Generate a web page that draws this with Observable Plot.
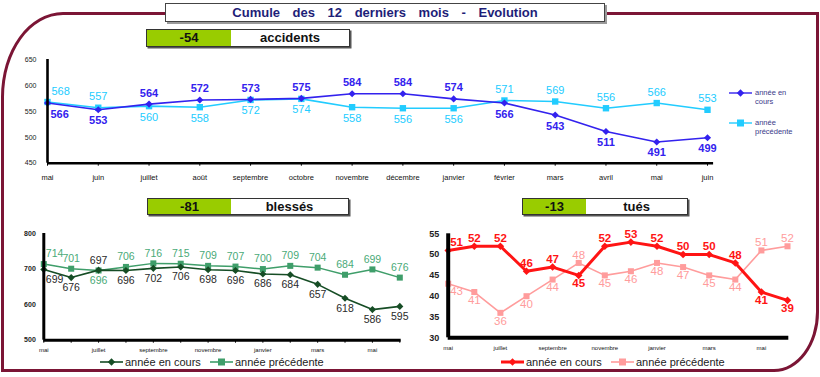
<!DOCTYPE html>
<html><head><meta charset="utf-8">
<script src="https://cdn.jsdelivr.net/npm/d3@7"></script>
<script src="https://cdn.jsdelivr.net/npm/@observablehq/plot@0.6"></script>
<style>
body{margin:0;background:#fff;font-family:"Liberation Sans",Arial,sans-serif}
#wrap{position:relative;width:820px;height:377px;overflow:hidden;background:#fff}
.frame{position:absolute;left:1px;top:12px;width:818px;height:360px;box-sizing:border-box;border:3.5px solid #7b1535;border-top-left-radius:62px 85px;border-bottom-right-radius:45px 60px}
.title{position:absolute;left:165px;top:3px;width:440px;height:19px;box-sizing:border-box;border:1px solid #444;background:#fff;box-shadow:2px 2px 0 #9a9a9a;text-align:center;font:bold 13px "Liberation Sans Narrow","Arial Narrow","Liberation Sans",Arial,sans-serif;color:#1e1e78;line-height:17px;word-spacing:9px}
.stat{position:absolute;box-sizing:border-box;border:1px solid #333;background:#fff;box-shadow:1.5px 1.5px 0 #555;display:flex;font:bold 13px "Liberation Sans",Arial,sans-serif;color:#111}
.stat .g{background:#99cc00;text-align:center}
.stat .w{flex:1;text-align:center}
.plot{position:absolute}
.leg{position:absolute;display:flex;align-items:center;font:11px "Liberation Sans",Arial,sans-serif;color:#222;white-space:nowrap}
.leg svg{display:block}
.tleg{position:absolute;font:7.5px "Liberation Sans",Arial,sans-serif;color:#3a3a8a;line-height:9px}
</style></head>
<body><div id="wrap">
<div class="frame"></div>
<div class="title">Cumule des 12 derniers mois - Evolution</div>
<div class="stat" style="left:146px;top:29px;width:204px;height:18px;line-height:16px"><div class="g" style="width:84px" id="accDelta"></div><div class="w">accidents</div></div>
<div class="stat" style="left:147px;top:198px;width:202px;height:17px;line-height:15px"><div class="g" style="width:83px" id="blesDelta"></div><div class="w">blessés</div></div>
<div class="stat" style="left:522px;top:198px;width:166px;height:17px;line-height:15px"><div class="g" style="width:63px" id="tuesDelta"></div><div class="w">tués</div></div>
</div>
<script>
// ---- data ----
const months = ["mai","juin","juillet","août","septembre","octobre","novembre","décembre","janvier","février","mars","avril","mai","juin"];
const smallMonthLabels = ["mai","","juillet","","septembre","","novembre","","janvier","","mars","","mai",""];
const seriesNames = ["année en cours","année précédente"];
const accCur  = [566,553,564,572,573,575,584,584,574,566,543,511,491,499];
const accPrev = [568,557,560,558,572,574,558,556,556,571,569,556,566,553];
const blesCur  = [699,676,697,696,702,706,698,696,686,684,657,618,586,595];
const blesPrev = [714,701,696,706,716,715,709,707,700,709,704,684,699,676];
const tuesCur  = [51,52,52,46,47,45,52,53,52,50,50,48,41,39];
const tuesPrev = [43,41,36,40,44,48,45,46,48,47,45,44,51,52];
const accYTicks = [450,500,550,600,650];
const blesYTicks = [500,600,700,800];
const tuesYTicks = [30,35,40,45,50,55];
const deltas = {acc:"-54", bles:"-81", tues:"-13"};

document.getElementById("accDelta").textContent = deltas.acc;
document.getElementById("blesDelta").textContent = deltas.bles;
document.getElementById("tuesDelta").textContent = deltas.tues;

const NARROW = '"Liberation Sans Narrow","Arial Narrow","Liberation Sans",Arial,sans-serif';
const idx = d3.range(months.length);

function seriesMarks(vals, other, isCur, o){
  const rows = vals.map((v,i)=>({i, v, above: isCur ? v >= other[i] : v > other[i]}));
  const t = {x:"i", y:"v", text:"v", fill:o.text, fontSize:o.fs, fontWeight:o.fw, fontFamily:NARROW};
  return [
    Plot.line(rows, {x:"i", y:"v", stroke:o.color, strokeWidth:o.sw}),
    Plot.dot(rows, {x:"i", y:"v", symbol:o.symbol, r:o.r, fill:o.color}),
    Plot.text(rows.filter(d=>d.above && d.i>0), {...t, dy:-o.off}),
    Plot.text(rows.filter(d=>!d.above && d.i>0), {...t, dy:o.off}),
    Plot.text(rows.filter(d=>d.above && d.i===0), {...t, dy:-o.off, dx:o.dx0, textAnchor:"start"}),
    Plot.text(rows.filter(d=>!d.above && d.i===0), {...t, dy:o.off, dx:o.dx0, textAnchor:"start"})
  ];
}

function axesFrame(yMin, sw, xEnd){
  return [
    Plot.ruleX([0], {stroke:"#000", strokeWidth:sw}),
    Plot.ruleY([{y:yMin, x1:0, x2:xEnd}], {y:"y", x1:"x1", x2:"x2", stroke:"#000", strokeWidth:sw})
  ];
}

function place(el, left, top){
  el.classList.add("plot");
  el.style.left = left+"px"; el.style.top = top+"px";
  document.getElementById("wrap").appendChild(el);
}

// ---- accidents ----
const accPlot = Plot.plot({
  width:820, height:150, marginLeft:47, marginRight:113, marginTop:19, marginBottom:27.3,
  style:{fontFamily:NARROW, overflow:"visible", background:"transparent"},
  x:{domain:[0,13], axis:null}, y:{domain:[450,650], axis:null},
  marks:[
    Plot.axisY({ticks:accYTicks, tickSize:0, tickPadding:11, fontSize:7, fill:"#222"}),
    Plot.axisX({ticks:idx, tickFormat:i=>months[i], tickSize:3, tickPadding:8, fontSize:7.5, fill:"#111"}),
    ...seriesMarks(accPrev, accCur, false, {color:"#22ccff", text:"#22ccff", symbol:"square", r:3.6, sw:1.6, fs:11, fw:"normal", off:11, dx0:4}),
    ...seriesMarks(accCur, accPrev, true, {color:"#3322ee", text:"#3322ee", symbol:"diamond2", r:3.2, sw:1.6, fs:11, fw:"bold", off:11, dx0:3}),
    ...axesFrame(450, 2.6, 13.12)
  ]
});
place(accPlot, 0, 40);

// ---- blessés ----
const blesPlot = Plot.plot({
  width:420, height:145, marginLeft:43.3, marginRight:20.7, marginTop:18, marginBottom:20.3,
  style:{fontFamily:NARROW, overflow:"visible", background:"transparent"},
  x:{domain:[0,13], axis:null}, y:{domain:[500,800], axis:null},
  marks:[
    Plot.axisY({ticks:blesYTicks, tickSize:0, tickPadding:8, fontSize:7, fontWeight:"bold", fill:"#222"}),
    Plot.axisX({ticks:idx, tickFormat:i=>smallMonthLabels[i], tickSize:3, tickPadding:5, fontSize:6, fill:"#111"}),
    ...seriesMarks(blesPrev, blesCur, false, {color:"#3f9e6a", text:"#4aaa78", symbol:"square", r:3.4, sw:1.5, fs:10.5, fw:"normal", off:10, dx0:2}),
    ...seriesMarks(blesCur, blesPrev, true, {color:"#164d25", text:"#2a2a2a", symbol:"diamond2", r:3.2, sw:1.6, fs:10.5, fw:"normal", off:10, dx0:2}),
    ...axesFrame(500, 3, 13.05)
  ]
});
place(blesPlot, 0, 215);

// ---- tués ----
const tuesPlot = Plot.plot({
  width:410, height:145, marginLeft:37.7, marginRight:33, marginTop:18.3, marginBottom:22.7,
  style:{fontFamily:NARROW, overflow:"visible", background:"transparent"},
  x:{domain:[0,13], axis:null}, y:{domain:[30,55], axis:null},
  marks:[
    Plot.axisY({ticks:tuesYTicks, tickSize:0, tickPadding:9, fontSize:9, fontWeight:"bold", fill:"#222"}),
    Plot.axisX({ticks:idx, tickFormat:i=>smallMonthLabels[i], tickSize:0, tickPadding:8, fontSize:6, fill:"#111"}),
    ...seriesMarks(tuesPrev, tuesCur, false, {color:"#ff9c9c", text:"#ff9c9c", symbol:"square", r:3.4, sw:1.6, fs:11.5, fw:"normal", off:8, dx0:2}),
    ...seriesMarks(tuesCur, tuesPrev, true, {color:"#ff1414", text:"#ff1414", symbol:"diamond2", r:3.4, sw:3, fs:11.5, fw:"bold", off:8, dx0:2}),
    ...axesFrame(30, 4, 13.05)
  ]
});
place(tuesPlot, 410, 215);

// ---- legends ----
function swatch(color, symbol, sw, w){
  const s = symbol==="square"
    ? `<rect x="${w/2-3.5}" y="0.5" width="7" height="7" fill="${color}"/>`
    : `<rect x="${w/2-2.6}" y="1.4" width="5.2" height="5.2" fill="${color}" transform="rotate(45 ${w/2} 4)"/>`;
  return `<svg width="${w}" height="8"><line x1="0" x2="${w}" y1="4" y2="4" stroke="${color}" stroke-width="${sw}"/>${s}</svg>`;
}
function addLegend(left, top, color, symbol, sw, label){
  const d = document.createElement("div");
  d.className = "leg"; d.style.left = left+"px"; d.style.top = top+"px";
  d.innerHTML = swatch(color, symbol, sw, 23) + `<span style="margin-left:2px">${label}</span>`;
  document.getElementById("wrap").appendChild(d);
}
addLegend(100, 356, "#164d25", "diamond", 1.6, seriesNames[0]);
addLegend(210, 356, "#3f9e6a", "square", 1.6, seriesNames[1]);
addLegend(501, 356, "#ff1414", "diamond", 3, seriesNames[0]);
addLegend(611, 356, "#ff9c9c", "square", 1.6, seriesNames[1]);

function addTopLegend(top, color, symbol, label){
  const s = document.createElement("div");
  s.className = "tleg"; s.style.left = "729px"; s.style.top = (top-4)+"px";
  s.innerHTML = swatch(color, symbol, 1.4, 23);
  document.getElementById("wrap").appendChild(s);
  const t = document.createElement("div");
  t.className = "tleg"; t.style.left = "755px"; t.style.top = (top-5)+"px"; t.style.width = "40px";
  t.textContent = label;
  document.getElementById("wrap").appendChild(t);
}
addTopLegend(93, "#3322ee", "diamond", seriesNames[0]);
addTopLegend(123, "#22ccff", "square", seriesNames[1]);
</script>
</body></html>
